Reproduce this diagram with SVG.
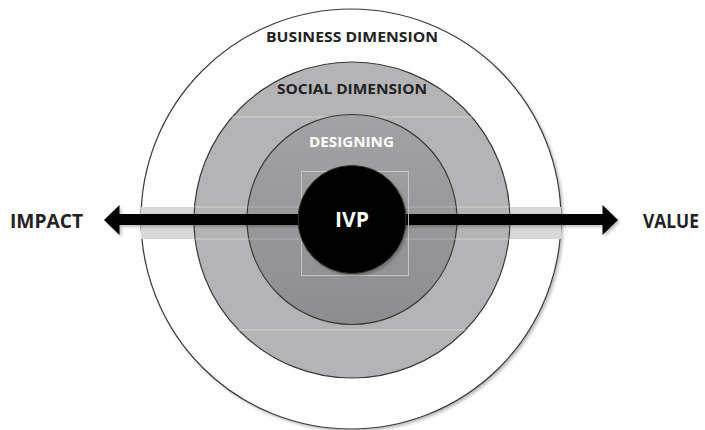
<svg xmlns="http://www.w3.org/2000/svg" width="705" height="430" viewBox="0 0 705 430">
<style>
.ring{stroke:#3a3a3a;stroke-width:1.2}
.lbl{font-family:"Open Sans","Liberation Sans",sans-serif;font-weight:700}
.dark{fill:#222}
.light{fill:#fff}
.faint{stroke:#d2d2d2;stroke-width:1;fill:none}
</style>
<defs>
<filter id="sh" x="-10%" y="-10%" width="125%" height="125%">
<feGaussianBlur in="SourceAlpha" stdDeviation="1.5"/>
<feOffset dx="2" dy="2" result="b"/>
<feComponentTransfer><feFuncA type="linear" slope="0.25"/></feComponentTransfer>
<feMerge><feMergeNode/><feMergeNode in="SourceGraphic"/></feMerge>
</filter>
<linearGradient id="gd" x1="0" y1="0" x2="0" y2="1">
<stop offset="0" stop-color="#a3a3a5"/>
<stop offset="1" stop-color="#8d8d8f"/>
</linearGradient>
<clipPath id="cs"><circle cx="352" cy="220" r="158"/></clipPath>
</defs>
<rect width="705" height="430" fill="#fff"/>
<g id="business">
<circle class="ring" cx="351" cy="219" r="210" fill="#fff" filter="url(#sh)"/>
<rect x="141" y="207" width="420" height="32" fill="#d8d8d8"/>
<text class="lbl dark" x="352" y="42" font-size="15" text-anchor="middle" textLength="172" lengthAdjust="spacingAndGlyphs">BUSINESS DIMENSION</text>
</g>
<g id="social">
<circle class="ring" cx="352" cy="220" r="158" fill="#b4b4b6"/>
<g clip-path="url(#cs)">
<line class="faint" x1="190" y1="117" x2="515" y2="117"/>
<line class="faint" x1="190" y1="330" x2="515" y2="330"/>
<line class="faint" x1="190" y1="207" x2="515" y2="207"/>
<line class="faint" x1="190" y1="239" x2="515" y2="239"/>
</g>
<text class="lbl dark" x="352" y="94" font-size="15" text-anchor="middle" textLength="150" lengthAdjust="spacingAndGlyphs">SOCIAL DIMENSION</text>
</g>
<g id="designing">
<circle class="ring" cx="352" cy="219.5" r="105" fill="url(#gd)"/>
<line x1="248" y1="207" x2="456" y2="207" stroke="#b0b0b2" stroke-width="1"/>
<line x1="248" y1="239" x2="456" y2="239" stroke="#b0b0b2" stroke-width="1"/>
<line x1="248" y1="228" x2="456" y2="228" stroke="#a8a8aa" stroke-width="1" stroke-dasharray="1 2"/>
<text class="lbl light" x="351.5" y="147" font-size="15" text-anchor="middle" textLength="85" lengthAdjust="spacingAndGlyphs">DESIGNING</text>
</g>
<g id="connectors" filter="url(#sh)">
<rect x="118" y="214" width="486" height="11" fill="#000"/>
<polygon points="104,220 119.5,205 119.5,235" fill="#000"/>
<polygon points="618,220 602.5,205 602.5,235" fill="#000"/>
</g>
<g id="ivp">
<rect x="301.5" y="171.5" width="107" height="104" fill="none" stroke="#c6c6c6" stroke-width="1"/>
<circle cx="352" cy="219.5" r="54" fill="#000" stroke="#333" stroke-width="1" filter="url(#sh)"/>
<text class="lbl light" x="352" y="227" font-size="21" text-anchor="middle" textLength="34" lengthAdjust="spacingAndGlyphs">IVP</text>
</g>
<g id="impact">
<text class="lbl dark" x="10" y="228" font-size="19.5" textLength="73" lengthAdjust="spacingAndGlyphs">IMPACT</text>
</g>
<g id="value">
<text class="lbl dark" x="643" y="228" font-size="19.5" textLength="56" lengthAdjust="spacingAndGlyphs">VALUE</text>
</g>
</svg>
